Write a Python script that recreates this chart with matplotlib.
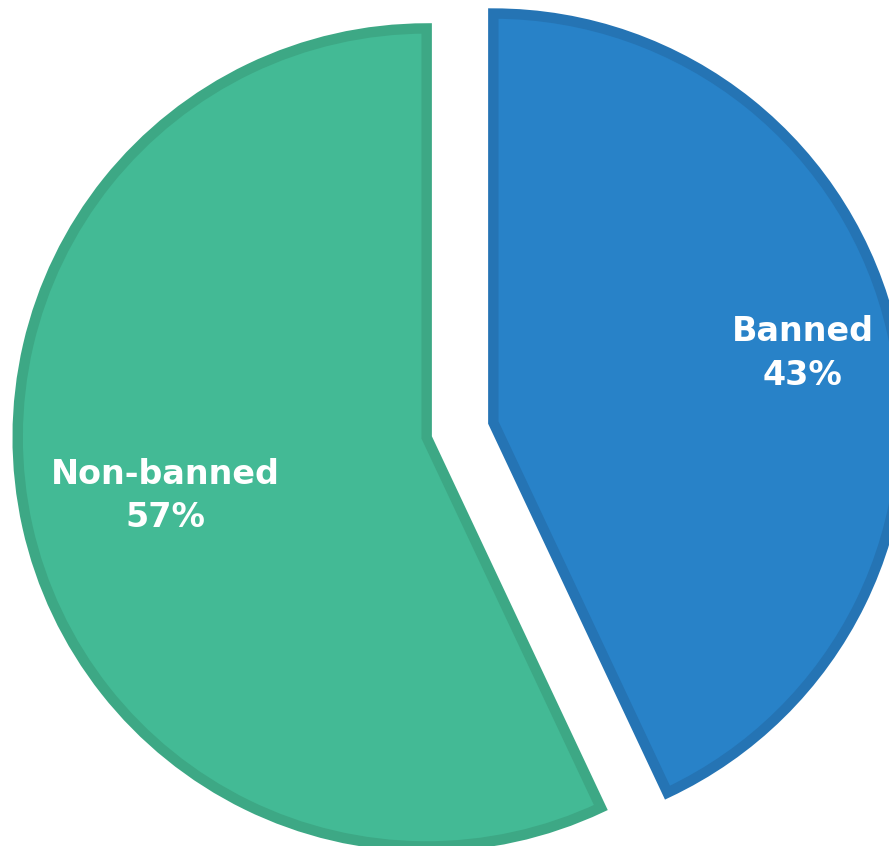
import matplotlib
matplotlib.use("Agg")
import matplotlib.pyplot as plt
import numpy as np

categories = ["Banned", "Non-banned"]
values = [43, 57]
fill_colors = ["#2882C8", "#43BA95"]
edge_colors = ["#2574B4", "#3DA885"]
explode = [0.0835, 0.0835]
label_dist = [0.775, 0.655]

W, H = 889, 846
fig = plt.figure(figsize=(W / 100, H / 100), dpi=100)
ax = fig.add_axes([0, 0, 1, 1])

labels = [f"{c}\n{v}%" for c, v in zip(categories, values)]
wedges, texts = ax.pie(values, labels=labels, colors=fill_colors, explode=explode,
                       startangle=90, counterclock=False, labeldistance=0.7,
                       wedgeprops=dict(linewidth=7.5, joinstyle="miter"),
                       textprops=dict(color="white", fontsize=24, fontweight="bold",
                                      family="DejaVu Sans", ha="center", va="center",
                                      linespacing=1.4))

for w, t, ec, ld, ex in zip(wedges, texts, edge_colors, label_dist, explode):
    w.set_edgecolor(ec)
    th = np.deg2rad((w.theta1 + w.theta2) / 2)
    cx, cy = w.center
    t.set_position((cx + ld * np.cos(th), cy + ld * np.sin(th)))
    t.set_ha("center")

ppu = 409.0
cxp, cyp = 460.0, 430.0
ax.set_xlim(-cxp / ppu, (W - cxp) / ppu)
ax.set_ylim(-(H - cyp) / ppu, cyp / ppu)
ax.set_aspect("equal", adjustable="box")
ax.axis("off")

fig.savefig("out.png", dpi=100)
